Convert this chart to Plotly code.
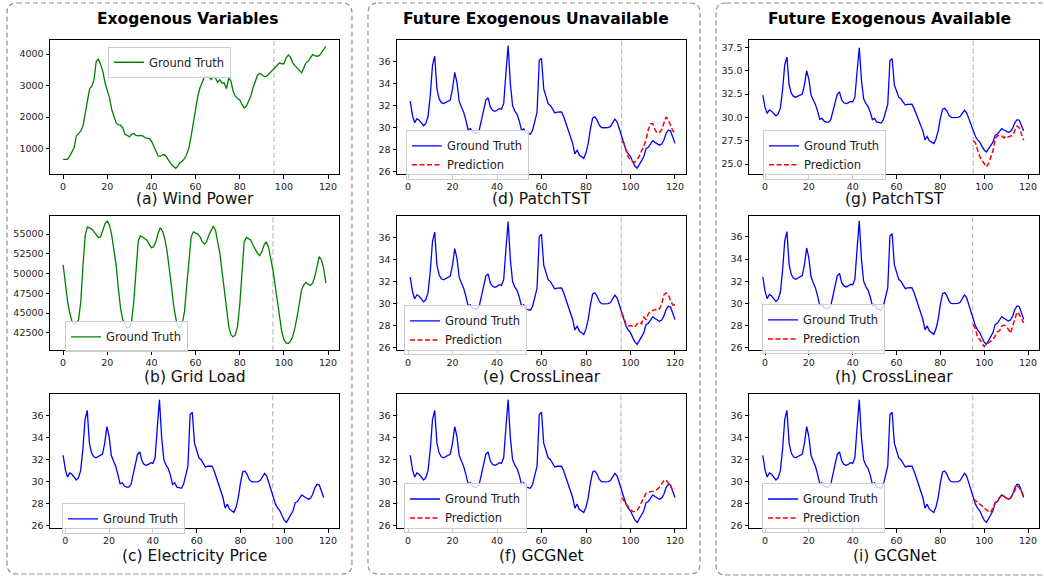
import plotly.graph_objects as go

W, H = 1044, 579
FONT = "DejaVu Sans"

# ---------------- data ----------------
wind_power = [653, 650, 655, 760, 874, 1030, 1400, 1480, 1560, 1715,
              2080, 2450, 2900, 2980, 3190, 3770, 3840, 3660, 3450, 3080,
              2870, 2610, 2240, 2030, 1820, 1750, 1740, 1660, 1450, 1420,
              1370, 1450, 1480, 1420, 1400, 1420, 1400, 1350, 1320, 1320,
              1240, 1080, 930, 770, 750, 800, 810, 715, 580, 505,
              430, 370, 450, 560, 600, 685, 820, 1030, 1400, 1820,
              2190, 2660, 2930, 3100, 3270, 3270, 3290, 3190, 3290, 3240,
              3100, 3190, 3080, 3080, 2900, 3240, 3140, 2820, 2660, 2590,
              2540, 2400, 2290, 2350, 2500, 2660, 2930, 3140, 3320, 3380,
              3350, 3290, 3290, 3350, 3420, 3500, 3590, 3650, 3720, 3690,
              3690, 3870, 3970, 3900, 3720, 3630, 3560, 3480, 3400, 3560,
              3720, 3770, 3870, 3980, 3950, 3930, 3950, 4030, 4140, 4240]

grid_load = [51100, 48580, 46490, 45020, 43970, 43630, 43760, 44180, 46490, 51100,
             54870, 55920, 55800, 55630, 55290, 54870, 54540, 54660, 55500, 56340,
             56640, 56130, 54870, 52990, 51100, 48160, 45650, 44180, 43550, 43130,
             43210, 43970, 46490, 50680, 54040, 54790, 54580, 54450, 54240, 53700,
             53280, 53410, 54040, 55080, 55800, 55380, 54450, 52990, 51100, 48580,
             46070, 44390, 43340, 43130, 43760, 45230, 48580, 51940, 54660, 55290,
             55170, 55000, 54660, 54040, 53740, 54040, 54870, 55500, 56010, 55500,
             54240, 52570, 50260, 47740, 45230, 43340, 42290, 42000, 42290, 43340,
             46070, 50680, 54040, 54580, 54450, 54240, 53620, 52990, 52570, 52270,
             52780, 53620, 54040, 53410, 52150, 50470, 48580, 46490, 44390, 42710,
             41660, 41240, 41160, 41450, 42080, 43130, 44600, 46490, 47950, 48580,
             48880, 48670, 48500, 48790, 49630, 50890, 52150, 51730, 50680, 48790]

price_gt = [32.4, 31.1, 30.43, 30.8, 30.67, 30.43, 30.16, 30.37, 31.0, 32.9,
            35.64, 36.48, 33.5, 32.6, 32.26, 32.17, 32.3, 32.4, 32.5, 33.5,
            35.0, 34.1, 32.4, 31.87, 31.4, 30.67, 29.8, 29.9, 29.6, 29.5,
            29.5, 29.76, 30.67, 31.57, 32.5, 32.7, 31.87, 31.57, 31.48, 31.57,
            31.72, 31.66, 32.17, 34.9, 37.45, 34.0, 32.0, 31.5, 31.2, 30.6,
            29.76, 29.9, 29.5, 29.46, 29.4, 29.76, 30.5, 31.4, 36.1, 36.3,
            33.5, 32.9, 32.17, 32.0, 31.72, 31.33, 31.4, 31.42, 31.42, 30.97,
            30.37, 29.83, 29.3, 28.56, 27.6, 27.96, 27.5, 27.36, 27.2, 27.7,
            28.56, 29.9, 30.88, 30.97, 30.67, 30.2, 30.0, 29.98, 29.98, 30.0,
            30.1, 30.5, 30.76, 30.5, 29.9, 29.16, 28.56, 27.96, 27.6, 27.36,
            26.9, 26.5, 26.3, 26.6, 27.0, 27.36, 28.1, 28.2, 28.56, 28.8,
            28.65, 28.5, 28.4, 28.5, 28.86, 29.46, 29.76, 29.7, 29.16, 28.56]

# predictions, future exogenous unavailable (x = 96..120)
pred_patchtst_unavail = [28.7, 28.6, 27.9, 27.3, 27.05, 26.9, 26.85, 27.1, 27.4, 27.9,
                         28.3, 28.9, 29.8, 30.35, 30.35, 29.8, 29.5, 29.55, 29.8, 30.4,
                         30.95, 30.7, 30.2, 29.7, 29.5]
pred_crosslinear_unavail = [29.16, 28.77, 28.08, 27.96, 28.0, 27.93, 27.87, 28.17, 28.3, 28.17,
                            28.77, 28.56, 29.07, 29.28, 29.37, 29.46, 29.37, 29.52, 29.97, 30.8,
                            30.97, 30.8, 30.27, 29.88, 29.88]
pred_gcgnet_unavail = [28.55, 28.25, 27.95, 27.7, 27.45, 27.3, 27.28, 27.4, 27.7, 28.15,
                       28.6, 28.95, 29.05, 29.07, 29.12, 29.2, 29.3, 29.5, 29.85, 30.1,
                       30.15, 29.9, 29.6, 29.2, 29.0]
# predictions, future exogenous available (x = 95..118)
pred_patchtst_avail = [27.5, 27.3, 26.5, 25.8, 25.4, 25.05, 24.7, 25.05, 25.67, 26.4,
                       27.74, 28.02, 28.09, 28.02, 27.81, 28.02, 27.91, 28.02, 28.09, 28.62,
                       29.08, 28.87, 28.27, 27.56]
pred_crosslinear_avail = [28.1, 27.66, 26.9, 26.75, 26.39, 26.09, 26.3, 26.45, 26.6, 26.7,
                          27.06, 27.42, 27.5, 27.96, 28.02, 27.96, 27.66, 27.3, 27.96, 28.7,
                          29.22, 29.0, 28.6, 28.24]
pred_gcgnet_avail = [28.45, 28.3, 28.1, 28.0, 27.8, 27.6, 27.42, 27.3, 27.2, 27.66,
                     28.1, 28.32, 28.56, 28.8, 28.7, 28.5, 28.4, 28.5, 28.86, 29.3,
                     29.6, 29.46, 29.0, 28.7]

x_exo = list(range(0, 120))
x_price_left = list(range(-1, 119))
x_price_mid = list(range(1, 121))
x_pred_mid = list(range(96, 121))
x_pred_right = list(range(95, 119))

col_titles = ["Exogenous Variables", "Future Exogenous Unavailable", "Future Exogenous Available"]
captions = ["(a) Wind Power", "(b) Grid Load", "(c) Electricity Price",
            "(d) PatchTST", "(e) CrossLinear", "(f) GCGNet",
            "(g) PatchTST", "(h) CrossLinear", "(i) GCGNet"]
x_ticks = [0, 20, 40, 60, 80, 100, 120]
wind_ticks = [1000, 2000, 3000, 4000]
load_ticks = [42500, 45000, 47500, 50000, 52500, 55000]
price_ticks = [26, 28, 30, 32, 34, 36]
price_ticks_g = [25.0, 27.5, 30.0, 32.5, 35.0, 37.5]
split_points = [95.5, 95, 94.7, 96, 95.8, 95.7, 95, 94.7, 94.8]

# ---------------- layout geometry (pixels) ----------------
col_px = [(50, 339), (397, 686), (749, 1039)]
row_px = [(40, 175), (217, 352), (396, 531)]

GT_BLUE = "#0000ff"
GREEN = "#008000"
RED = "#ff0000"

panels = [
    dict(series=[(x_exo, wind_power, GREEN, "solid", "Ground Truth")],
         xr=[-5.95, 124.95], yr=[189, 4451], yt=wind_ticks, yfmt="d", leg=(108, 47)),
    dict(series=[(x_exo, grid_load, GREEN, "solid", "Ground Truth")],
         xr=[-5.95, 124.95], yr=[40319, 57307], yt=load_ticks, yfmt="d", leg=(65, 323)),
    dict(series=[(x_price_left, price_gt, GT_BLUE, "solid", "Ground Truth")],
         xr=[-7, 125], yr=[25.77, 37.97], yt=price_ticks, yfmt=None, leg=(62, 506)),
    dict(series=[(x_price_mid, price_gt, GT_BLUE, "solid", "Ground Truth"),
                 (x_pred_mid, pred_patchtst_unavail, RED, "dash", "Prediction")],
         xr=[-4.95, 124.95], yr=[25.77, 37.97], yt=price_ticks, yfmt=None, leg=(406, 131)),
    dict(series=[(x_price_mid, price_gt, GT_BLUE, "solid", "Ground Truth"),
                 (x_pred_mid, pred_crosslinear_unavail, RED, "dash", "Prediction")],
         xr=[-4.95, 124.95], yr=[25.77, 37.97], yt=price_ticks, yfmt=None, leg=(404, 307)),
    dict(series=[(x_price_mid, price_gt, GT_BLUE, "solid", "Ground Truth"),
                 (x_pred_mid, pred_gcgnet_unavail, RED, "dash", "Prediction")],
         xr=[-4.95, 124.95], yr=[25.77, 37.97], yt=price_ticks, yfmt=None, leg=(404, 486)),
    dict(series=[(x_price_left, price_gt, GT_BLUE, "solid", "Ground Truth"),
                 (x_pred_right, pred_patchtst_avail, RED, "dash", "Prediction")],
         xr=[-7.3, 125], yr=[23.93, 38.32], yt=price_ticks_g, yfmt=".1f", leg=(763, 131)),
    dict(series=[(x_price_left, price_gt, GT_BLUE, "solid", "Ground Truth"),
                 (x_pred_right, pred_crosslinear_avail, RED, "dash", "Prediction")],
         xr=[-7.3, 125], yr=[25.77, 37.9], yt=price_ticks, yfmt=None, leg=(762, 306)),
    dict(series=[(x_price_left, price_gt, GT_BLUE, "solid", "Ground Truth"),
                 (x_pred_right, pred_gcgnet_avail, RED, "dash", "Prediction")],
         xr=[-7.3, 125], yr=[25.77, 37.97], yt=price_ticks, yfmt=None, leg=(762, 486)),
]


def fx(px):
    return px / W


def fy(py):
    return 1 - py / H


fig = go.Figure()
layout = dict(
    width=W, height=H, autosize=False,
    margin=dict(l=0, r=0, t=0, b=0),
    paper_bgcolor="white", plot_bgcolor="white",
    font=dict(family=FONT, color="#222222"),
    annotations=[], shapes=[],
)

for k, p in enumerate(panels):
    idx = k + 1
    col, row = k // 3, k % 3
    sfx = "" if idx == 1 else str(idx)
    legname = "legend" + sfx
    for (xs, ys, color, dash, name) in p["series"]:
        fig.add_trace(go.Scatter(
            x=xs, y=ys, mode="lines", name=name,
            line=dict(color=color, width=1.3 if dash == "solid" else 1.5,
                      dash="solid" if dash == "solid" else "5px,2.5px"),
            xaxis="x" + sfx, yaxis="y" + sfx, legend=legname,
            showlegend=True,
        ))
    x0, x1 = col_px[col]
    y0, y1 = row_px[row]
    axis_common = dict(
        showline=True, linecolor="black", linewidth=1, mirror=True,
        ticks="outside", ticklen=3.5, tickwidth=0.8, tickcolor="black",
        showgrid=False, zeroline=False,
        tickfont=dict(family=FONT, size=9.5, color="#222222"),
    )
    layout["xaxis" + sfx] = dict(
        domain=[fx(x0), fx(x1)], range=p["xr"], tickvals=x_ticks,
        anchor="y" + sfx, **axis_common)
    yax = dict(domain=[fy(y1), fy(y0)], range=p["yr"], tickvals=p["yt"],
               anchor="x" + sfx, **axis_common)
    if p["yfmt"]:
        yax["tickformat"] = p["yfmt"]
    layout["yaxis" + sfx] = yax
    lx, ly = p["leg"]
    layout[legname] = dict(
        x=fx(lx), y=fy(ly), xanchor="left", yanchor="top",
        bgcolor="rgba(255,255,255,0.8)", bordercolor="#cccccc", borderwidth=1,
        font=dict(family=FONT, size=11.5, color="#222222"),
        itemwidth=30, traceorder="normal", tracegroupgap=0,
    )
    # split line
    layout["shapes"].append(dict(
        type="line", xref="x" + sfx, yref="y" + sfx + " domain",
        x0=split_points[k], x1=split_points[k], y0=0, y1=1,
        line=dict(color="#bdbdbd", width=1.2, dash="5px,3px"), layer="below"))
    # caption
    cy = {0: 200.5, 1: 378.5, 2: 558.5}[row]
    layout["annotations"].append(dict(
        text=captions[k], x=fx((x0 + x1) / 2), y=fy(cy), xref="paper", yref="paper",
        xanchor="center", yanchor="middle", showarrow=False,
        font=dict(family=FONT, size=15.5, color="#111111")))

# column titles
title_cx = [187, 535.5, 889]
for c, t in enumerate(col_titles):
    layout["annotations"].append(dict(
        text=t, x=fx(title_cx[c]), y=fy(19), xref="paper", yref="paper",
        xanchor="center", yanchor="middle", showarrow=False,
        font=dict(family=FONT, size=15.5, color="black", weight="bold")))


# dashed rounded boxes
def rounded(x0, y0, x1, y1, r=10):
    pts = [("M", [(x0 + r, y0)]), ("L", [(x1 - r, y0)]), ("Q", [(x1, y0), (x1, y0 + r)]),
           ("L", [(x1, y1 - r)]), ("Q", [(x1, y1), (x1 - r, y1)]), ("L", [(x0 + r, y1)]),
           ("Q", [(x0, y1), (x0, y1 - r)]), ("L", [(x0, y0 + r)]), ("Q", [(x0, y0), (x0 + r, y0)])]
    s = ""
    for cmd, ps in pts:
        s += cmd + " " + " ".join(f"{fx(a):.5f},{fy(b):.5f}" for a, b in ps) + " "
    return s + "Z"


for bx in [(7, 3, 352, 577), (368, 3, 700, 577), (716, 3, 1058, 578)]:
    layout["shapes"].append(dict(
        type="path", xref="paper", yref="paper", path=rounded(*bx),
        line=dict(color="#8f8f8f", width=1.2, dash="5px,3px"), layer="above"))

fig.update_layout(**layout)
fig.write_html("out.html",
               config={"displayModeBar": False},
               post_script="document.body.style.margin='0';document.body.style.overflow='hidden';")
